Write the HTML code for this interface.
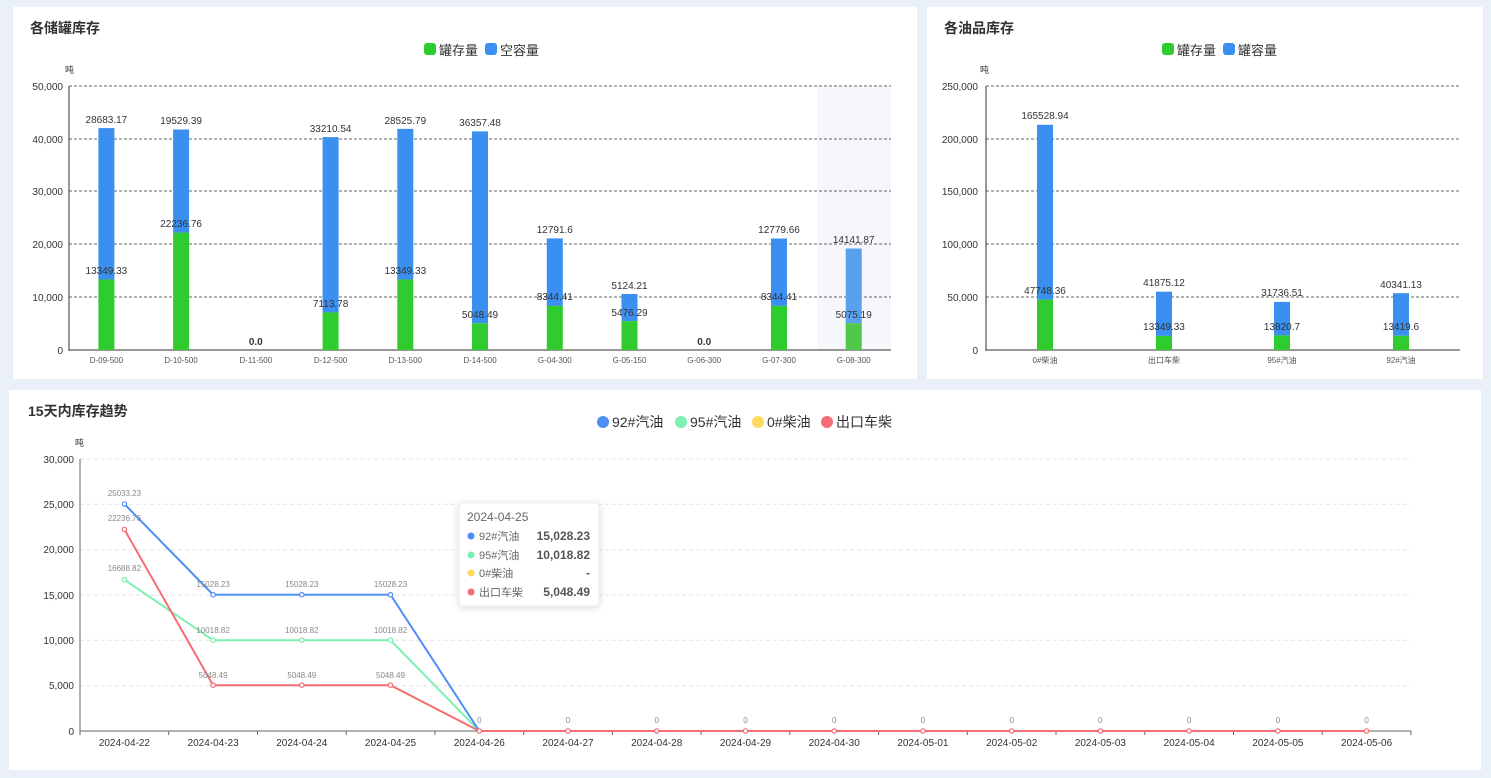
<!DOCTYPE html>
<html><head><meta charset="utf-8"><style>
body{margin:0;background:#eaf0f8;width:1491px;height:778px;overflow:hidden;font-family:"Liberation Sans","Noto Sans CJK SC",sans-serif}
svg{position:absolute;left:0;top:0}
</style></head><body>
<svg width="1491" height="778" xmlns="http://www.w3.org/2000/svg" font-family="Liberation Sans, Noto Sans CJK SC, sans-serif">
<rect x="0" y="0" width="1491" height="778" fill="#eaf0f8"/>
<rect x="13" y="7" width="904" height="372" fill="#fff"/>
<rect x="927" y="7" width="556" height="372" fill="#fff"/>
<rect x="9" y="390" width="1472" height="380" fill="#fff"/>

<!-- Left chart -->
<text x="30" y="33" font-size="14" font-weight="bold" fill="#333">各储罐库存</text>
<rect x="424" y="43" width="12" height="12" rx="3" fill="#2ecc2e"/><text x="439" y="55" font-size="13" fill="#333">罐存量</text>
<rect x="485" y="43" width="12" height="12" rx="3" fill="#3a8ff0"/><text x="500" y="55" font-size="13" fill="#333">空容量</text>
<text x="65" y="73" font-size="9" fill="#333">吨</text>
<rect x="817" y="86" width="74" height="264" fill="#f5f7fb"/>
<g stroke="#333" stroke-dasharray="3,2" stroke-width="0.8">
<line x1="69" y1="86" x2="891" y2="86"/><line x1="69" y1="139" x2="891" y2="139"/><line x1="69" y1="191" x2="891" y2="191"/><line x1="69" y1="244" x2="891" y2="244"/><line x1="69" y1="297" x2="891" y2="297"/>
</g>
<g font-size="10" fill="#333" text-anchor="end">
<text x="63" y="90">50,000</text><text x="63" y="143">40,000</text><text x="63" y="195">30,000</text><text x="63" y="248">20,000</text><text x="63" y="301">10,000</text><text x="63" y="354">0</text>
</g>
<line x1="69" y1="86" x2="69" y2="351" stroke="#333"/>
<line x1="69" y1="350" x2="891" y2="350" stroke="#333"/>
<g fill="#3a8ff0">
<rect x="98.4" y="128.1" width="16" height="151.4"/><rect x="173.1" y="129.5" width="16" height="103.1"/><rect x="322.6" y="137.1" width="16" height="175.3"/><rect x="397.3" y="128.9" width="16" height="150.6"/><rect x="472" y="131.4" width="16" height="191.9"/><rect x="546.8" y="238.4" width="16" height="67.5"/><rect x="621.5" y="294" width="16" height="27.1"/><rect x="771" y="238.5" width="16" height="67.4"/><rect x="845.7" y="248.5" width="16" height="74.7" fill="#5aa0f0"/>
</g>
<g fill="#2ecc2e">
<rect x="98.4" y="279.5" width="16" height="70.5"/><rect x="173.1" y="232.6" width="16" height="117.4"/><rect x="322.6" y="312.4" width="16" height="37.6"/><rect x="397.3" y="279.5" width="16" height="70.5"/><rect x="472" y="323.3" width="16" height="26.7"/><rect x="546.8" y="305.9" width="16" height="44.1"/><rect x="621.5" y="321.1" width="16" height="28.9"/><rect x="771" y="305.9" width="16" height="44.1"/><rect x="845.7" y="323.2" width="16" height="26.8" fill="#4ec94a"/>
</g>
<g font-size="10" fill="#333" text-anchor="middle">
<text x="106.4" y="123">28683.17</text><text x="181.1" y="124">19529.39</text><text x="330.6" y="132">33210.54</text><text x="405.3" y="124">28525.79</text><text x="480" y="126">36357.48</text><text x="554.8" y="233">12791.6</text><text x="629.5" y="289">5124.21</text><text x="779" y="233">12779.66</text><text x="853.7" y="243">14141.87</text>
<text x="106.4" y="274">13349.33</text><text x="181.1" y="227">22236.76</text><text x="330.6" y="307">7113.78</text><text x="405.3" y="274">13349.33</text><text x="480" y="318">5048.49</text><text x="554.8" y="300">8344.41</text><text x="629.5" y="316">5476.29</text><text x="779" y="300">8344.41</text><text x="853.7" y="318">5075.19</text>
<text x="255.8" y="345" font-weight="bold">0.0</text><text x="704.2" y="345" font-weight="bold">0.0</text>
</g>
<g font-size="8" fill="#555" text-anchor="middle">
<text x="106.4" y="363">D-09-500</text><text x="181.1" y="363">D-10-500</text><text x="255.8" y="363">D-11-500</text><text x="330.6" y="363">D-12-500</text><text x="405.3" y="363">D-13-500</text><text x="480" y="363">D-14-500</text><text x="554.8" y="363">G-04-300</text><text x="629.5" y="363">G-05-150</text><text x="704.2" y="363">G-06-300</text><text x="779" y="363">G-07-300</text><text x="853.7" y="363">G-08-300</text>
</g>

<!-- Right chart -->
<text x="944" y="33" font-size="14" font-weight="bold" fill="#333">各油品库存</text>
<rect x="1162" y="43" width="12" height="12" rx="3" fill="#2ecc2e"/><text x="1177" y="55" font-size="13" fill="#333">罐存量</text>
<rect x="1223" y="43" width="12" height="12" rx="3" fill="#3a8ff0"/><text x="1238" y="55" font-size="13" fill="#333">罐容量</text>
<text x="980" y="73" font-size="9" fill="#333">吨</text>
<g stroke="#333" stroke-dasharray="3,2" stroke-width="0.8">
<line x1="986" y1="86" x2="1460" y2="86"/><line x1="986" y1="139" x2="1460" y2="139"/><line x1="986" y1="191" x2="1460" y2="191"/><line x1="986" y1="244" x2="1460" y2="244"/><line x1="986" y1="297" x2="1460" y2="297"/>
</g>
<g font-size="10" fill="#333" text-anchor="end">
<text x="978" y="90">250,000</text><text x="978" y="143">200,000</text><text x="978" y="195">150,000</text><text x="978" y="248">100,000</text><text x="978" y="301">50,000</text><text x="978" y="354">0</text>
</g>
<line x1="986" y1="86" x2="986" y2="351" stroke="#333"/>
<line x1="986" y1="350" x2="1460" y2="350" stroke="#333"/>
<g fill="#3a8ff0">
<rect x="1037" y="124.8" width="16" height="174.8"/><rect x="1156" y="291.7" width="16" height="44.2"/><rect x="1274" y="301.9" width="16" height="33.5"/><rect x="1393" y="293.2" width="16" height="42.6"/>
</g>
<g fill="#2ecc2e">
<rect x="1037" y="299.6" width="16" height="50.4"/><rect x="1156" y="335.9" width="16" height="14.1"/><rect x="1274" y="335.4" width="16" height="14.6"/><rect x="1393" y="335.8" width="16" height="14.2"/>
</g>
<g font-size="10" fill="#333" text-anchor="middle">
<text x="1045" y="119">165528.94</text><text x="1164" y="286">41875.12</text><text x="1282" y="296">31736.51</text><text x="1401" y="288">40341.13</text>
<text x="1045" y="294">47748.36</text><text x="1164" y="330">13349.33</text><text x="1282" y="330">13820.7</text><text x="1401" y="330">13419.6</text>
</g>
<g font-size="8" fill="#555" text-anchor="middle">
<text x="1045" y="363">0#柴油</text><text x="1164" y="363">出口车柴</text><text x="1282" y="363">95#汽油</text><text x="1401" y="363">92#汽油</text>
</g>

<!-- Bottom chart -->
<text x="28" y="416" font-size="14" font-weight="bold" fill="#333">15天内库存趋势</text>
<circle cx="603" cy="422" r="6" fill="#4e8ef7"/><text x="612" y="427" font-size="14" fill="#333">92#汽油</text>
<circle cx="681" cy="422" r="6" fill="#7cf0b0"/><text x="690" y="427" font-size="14" fill="#333">95#汽油</text>
<circle cx="758" cy="422" r="6" fill="#ffd95a"/><text x="767" y="427" font-size="14" fill="#333">0#柴油</text>
<circle cx="827" cy="422" r="6" fill="#f56c73"/><text x="836" y="427" font-size="14" fill="#333">出口车柴</text>
<text x="75" y="446" font-size="9" fill="#333">吨</text>
<g stroke="#e3e3e3" stroke-dasharray="4,3">
<line x1="80" y1="459" x2="1411" y2="459"/><line x1="80" y1="504.3" x2="1411" y2="504.3"/><line x1="80" y1="549.7" x2="1411" y2="549.7"/><line x1="80" y1="595" x2="1411" y2="595"/><line x1="80" y1="640.3" x2="1411" y2="640.3"/><line x1="80" y1="685.7" x2="1411" y2="685.7"/>
</g>
<g font-size="10" fill="#333" text-anchor="end">
<text x="74" y="463">30,000</text><text x="74" y="508">25,000</text><text x="74" y="553">20,000</text><text x="74" y="599">15,000</text><text x="74" y="644">10,000</text><text x="74" y="689">5,000</text><text x="74" y="735">0</text>
</g>
<line x1="80" y1="459" x2="80" y2="731" stroke="#666"/>
<line x1="80" y1="731" x2="1411" y2="731" stroke="#666"/>
<g stroke="#666">
<line x1="80" y1="731" x2="80" y2="735"/><line x1="168.7" y1="731" x2="168.7" y2="735"/><line x1="257.5" y1="731" x2="257.5" y2="735"/><line x1="346.2" y1="731" x2="346.2" y2="735"/><line x1="434.9" y1="731" x2="434.9" y2="735"/><line x1="523.7" y1="731" x2="523.7" y2="735"/><line x1="612.4" y1="731" x2="612.4" y2="735"/><line x1="701.1" y1="731" x2="701.1" y2="735"/><line x1="789.8" y1="731" x2="789.8" y2="735"/><line x1="878.6" y1="731" x2="878.6" y2="735"/><line x1="967.3" y1="731" x2="967.3" y2="735"/><line x1="1056" y1="731" x2="1056" y2="735"/><line x1="1144.8" y1="731" x2="1144.8" y2="735"/><line x1="1233.5" y1="731" x2="1233.5" y2="735"/><line x1="1322.2" y1="731" x2="1322.2" y2="735"/><line x1="1411" y1="731" x2="1411" y2="735"/>
</g>
<g font-size="10" fill="#333" text-anchor="middle">
<text x="124.4" y="746">2024-04-22</text><text x="213.1" y="746">2024-04-23</text><text x="301.8" y="746">2024-04-24</text><text x="390.5" y="746">2024-04-25</text><text x="479.3" y="746">2024-04-26</text><text x="568" y="746">2024-04-27</text><text x="656.7" y="746">2024-04-28</text><text x="745.5" y="746">2024-04-29</text><text x="834.2" y="746">2024-04-30</text><text x="922.9" y="746">2024-05-01</text><text x="1011.7" y="746">2024-05-02</text><text x="1100.4" y="746">2024-05-03</text><text x="1189.1" y="746">2024-05-04</text><text x="1277.9" y="746">2024-05-05</text><text x="1366.6" y="746">2024-05-06</text>
</g>
<polyline fill="none" stroke="#7cf0b0" stroke-width="2" points="124.4,579.7 213.1,640.2 301.8,640.2 390.5,640.2 479.3,731 1366.6,731"/>
<polyline fill="none" stroke="#4e8ef7" stroke-width="2" points="124.4,504 213.1,594.7 301.8,594.7 390.5,594.7 479.3,731 1366.6,731"/>
<polyline fill="none" stroke="#f56c73" stroke-width="2" points="124.4,529.4 213.1,685.2 301.8,685.2 390.5,685.2 479.3,731 1366.6,731"/>
<g fill="#fff" stroke-width="1.2">
<g stroke="#7cf0b0"><circle cx="124.4" cy="579.7" r="2.2"/><circle cx="213.1" cy="640.2" r="2.2"/><circle cx="301.8" cy="640.2" r="2.2"/><circle cx="390.5" cy="640.2" r="2.2"/></g>
<g stroke="#4e8ef7"><circle cx="124.4" cy="504" r="2.2"/><circle cx="213.1" cy="594.7" r="2.2"/><circle cx="301.8" cy="594.7" r="2.2"/><circle cx="390.5" cy="594.7" r="2.2"/></g>
<g stroke="#f56c73"><circle cx="124.4" cy="529.4" r="2.2"/><circle cx="213.1" cy="685.2" r="2.2"/><circle cx="301.8" cy="685.2" r="2.2"/><circle cx="390.5" cy="685.2" r="2.2"/>
<circle cx="479.3" cy="731" r="2.2"/><circle cx="568" cy="731" r="2.2"/><circle cx="656.7" cy="731" r="2.2"/><circle cx="745.5" cy="731" r="2.2"/><circle cx="834.2" cy="731" r="2.2"/><circle cx="922.9" cy="731" r="2.2"/><circle cx="1011.7" cy="731" r="2.2"/><circle cx="1100.4" cy="731" r="2.2"/><circle cx="1189.1" cy="731" r="2.2"/><circle cx="1277.9" cy="731" r="2.2"/><circle cx="1366.6" cy="731" r="2.2"/></g>
</g>
<g font-size="8" fill="#888" text-anchor="middle">
<text x="124.4" y="496">25033.23</text><text x="124.4" y="521">22236.76</text><text x="124.4" y="571">16688.82</text>
<text x="213.1" y="587">15028.23</text><text x="301.8" y="587">15028.23</text><text x="390.5" y="587">15028.23</text>
<text x="213.1" y="633">10018.82</text><text x="301.8" y="633">10018.82</text><text x="390.5" y="633">10018.82</text>
<text x="213.1" y="678">5048.49</text><text x="301.8" y="678">5048.49</text><text x="390.5" y="678">5048.49</text>
<text x="479.3" y="723">0</text><text x="568" y="723">0</text><text x="656.7" y="723">0</text><text x="745.5" y="723">0</text><text x="834.2" y="723">0</text><text x="922.9" y="723">0</text><text x="1011.7" y="723">0</text><text x="1100.4" y="723">0</text><text x="1189.1" y="723">0</text><text x="1277.9" y="723">0</text><text x="1366.6" y="723">0</text>
</g>
<!-- tooltip -->
<rect x="459" y="503" width="140" height="103" rx="4" fill="#fff" stroke="#eee" style="filter:drop-shadow(0 1px 4px rgba(0,0,0,0.15))"/>
<text x="467" y="521" font-size="12" fill="#666">2024-04-25</text>
<g font-size="11" fill="#666">
<circle cx="471" cy="536" r="3.5" fill="#4e8ef7"/><text x="479" y="540">92#汽油</text>
<circle cx="471" cy="555" r="3.5" fill="#7cf0b0"/><text x="479" y="559">95#汽油</text>
<circle cx="471" cy="573" r="3.5" fill="#ffd95a"/><text x="479" y="577">0#柴油</text>
<circle cx="471" cy="592" r="3.5" fill="#f56c73"/><text x="479" y="596">出口车柴</text>
</g>
<g font-size="12" font-weight="bold" fill="#555" text-anchor="end">
<text x="590" y="540">15,028.23</text><text x="590" y="559">10,018.82</text><text x="590" y="577">-</text><text x="590" y="596">5,048.49</text>
</g>
</svg>
</body></html>
